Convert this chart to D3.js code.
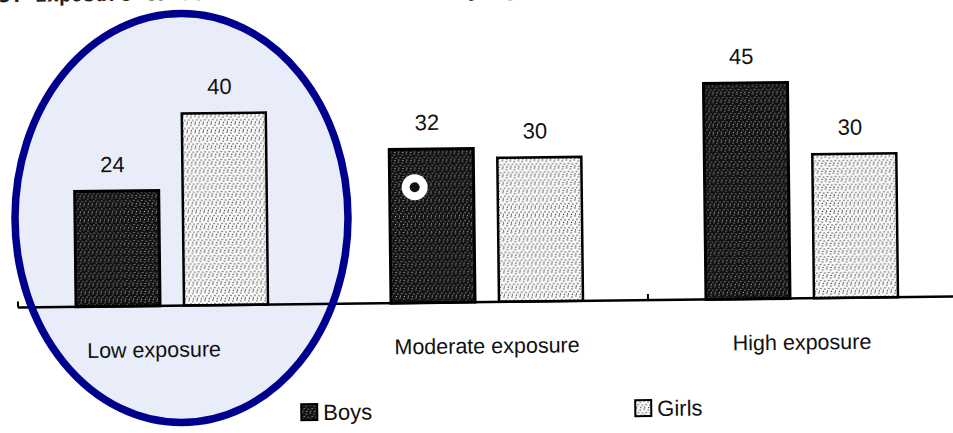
<!DOCTYPE html>
<html>
<head>
<meta charset="utf-8">
<script src="https://cdn.jsdelivr.net/npm/d3@7"></script>
<style>
    html, body { margin: 0; padding: 0; background: #fff; }
    #chart { width: 953px; height: 433px; overflow: hidden; }
</style>
</head>
<body>
<div id="chart"></div>
<script>
// data
const categories = ["Low exposure", "Moderate exposure", "High exposure"];
const seriesNames = ["Boys", "Girls"];
const boysValues = [24, 32, 45];
const girlsValues = [40, 30, 30];
const titleText = "Figure 15: Exposure to school violence and bullying, by sex (%)";

function createBarChart() {
    const width = 953;
    const height = 433;
    const baseY = 302;   // axis line in the un-tilted frame
    const tilt = -0.67;  // the scan is slightly rotated

    const svg = d3.select("#chart")
        .append("svg")
        .attr("width", width)
        .attr("height", height);

    // stipple patterns for the bars
    const defs = svg.append("defs");
    const dotSpots = [[1, 1], [5, 2], [3, 4.5], [7, 5], [1.5, 7], [5.5, 7.5]];

    const dark = defs.append("pattern")
        .attr("id", "dotsDark")
        .attr("patternUnits", "userSpaceOnUse")
        .attr("width", 8).attr("height", 8);
    dark.append("rect").attr("width", 8).attr("height", 8).attr("fill", "#121212");
    dark.selectAll("circle").data(dotSpots).join("circle")
        .attr("cx", d => d[0]).attr("cy", d => d[1]).attr("r", 0.6)
        .attr("fill", "#e8e8e8");

    const light = defs.append("pattern")
        .attr("id", "dotsLight")
        .attr("patternUnits", "userSpaceOnUse")
        .attr("width", 8).attr("height", 8);
    light.append("rect").attr("width", 8).attr("height", 8).attr("fill", "#fbfbfb");
    light.selectAll("circle").data(dotSpots).join("circle")
        .attr("cx", d => d[0]).attr("cy", d => d[1]).attr("r", 0.65)
        .attr("fill", "#222");

    const fills = { Boys: "url(#dotsDark)", Girls: "url(#dotsLight)" };

    // highlight ellipse, fill goes under everything
    const ell = { cx: 181.5, cy: 218, rx: 166.5, ry: 204.5 };
    svg.append("ellipse")
        .attr("cx", ell.cx).attr("cy", ell.cy)
        .attr("rx", ell.rx).attr("ry", ell.ry)
        .attr("fill", "#e9edf9");

    const g = svg.append("g")
        .attr("transform", `rotate(${tilt},486,${baseY})`);

    // title, mostly cut off by the top edge of the scan
    g.append("text")
        .attr("x", -94)
        .attr("y", -3.5)
        .style("font-family", "'DejaVu Sans Mono', monospace")
        .style("font-weight", "bold")
        .style("font-size", "20px")
        .style("fill", "#222")
        .text(titleText);

    const x0 = d3.scaleBand()
        .domain(categories)
        .range([18, 963]);

    const groupWidth = 192;
    const groupShift = (x0.bandwidth() - groupWidth) / 2 - 3.5;

    const x1 = d3.scaleBand()
        .domain(seriesNames)
        .range([0, groupWidth])
        .paddingInner(0.222);

    const y = d3.scaleLinear()
        .domain([0, 50])
        .range([baseY, baseY - 240]);

    const rows = categories.map((c, i) => ({
        category: c,
        values: [
            { key: "Boys", value: boysValues[i] },
            { key: "Girls", value: girlsValues[i] }
        ]
    }));

    // draw bars
    const groups = g.append("g")
        .selectAll("g")
        .data(rows)
        .join("g")
        .attr("transform", d => `translate(${x0(d.category) + groupShift},0)`);

    groups.selectAll("rect")
        .data(d => d.values)
        .join("rect")
        .attr("x", d => x1(d.key))
        .attr("y", d => y(d.value))
        .attr("width", x1.bandwidth())
        .attr("height", d => y(0) - y(d.value))
        .attr("fill", d => fills[d.key])
        .attr("stroke", "#000")
        .attr("stroke-width", d => d.key === "Boys" ? 3 : 2.5);

    // value labels
    groups.selectAll("text.val")
        .data(d => d.values)
        .join("text")
        .attr("class", "val")
        .attr("x", d => x1(d.key) + x1.bandwidth() / 2 - 4)
        .attr("y", d => y(d.value) - 19)
        .attr("text-anchor", "middle")
        .style("font-family", "'Liberation Sans', Arial, sans-serif")
        .style("font-size", "22px")
        .style("fill", "#111")
        .text(d => d.value);

    // punch-hole speck on the moderate boys bar
    const speck = groups.filter(d => d.category === "Moderate exposure")
        .append("g")
        .attr("transform", d => `translate(${x1("Boys") + 25},${y(d.values[0].value) + 38})`);
    speck.append("circle").attr("r", 13).attr("fill", "#fff");
    speck.append("circle").attr("r", 5).attr("fill", "#111");

    // axis
    const axis = g.append("g")
        .attr("transform", `translate(0,${baseY})`)
        .call(d3.axisBottom(x0).tickSize(0).tickPadding(36));
    axis.select(".domain")
        .attr("d", `M${x0.range()[0]},0H${width + 20}`)
        .attr("stroke", "#000")
        .attr("stroke-width", 2.5);
    // the printed labels sit a little left of the group centres
    axis.selectAll(".tick text")
        .attr("dx", (d, i) => i === 0 ? -22 : -4)
        .style("font-family", "'Liberation Sans', Arial, sans-serif")
        .style("font-size", "21.5px")
        .style("fill", "#111");

    // small ticks at the group edges
    g.append("g")
        .selectAll("line")
        .data([categories[0], categories[2]])
        .join("line")
        .attr("x1", d => x0(d)).attr("x2", d => x0(d))
        .attr("y1", baseY).attr("y2", baseY - 6)
        .attr("stroke", "#000")
        .attr("stroke-width", 2);

    // legend
    const legendX = { Boys: 300, Girls: 634 };
    const legend = g.append("g")
        .selectAll("g")
        .data(seriesNames)
        .join("g")
        .attr("transform", d => `translate(${legendX[d]},402)`);
    legend.append("rect")
        .attr("width", 16).attr("height", 16)
        .attr("fill", d => fills[d])
        .attr("stroke", "#000")
        .attr("stroke-width", 2);
    legend.append("text")
        .attr("x", 22)
        .attr("y", 16)
        .style("font-family", "'Liberation Sans', Arial, sans-serif")
        .style("font-size", "22px")
        .style("fill", "#111")
        .text(d => d);

    // ellipse outline on top
    svg.append("ellipse")
        .attr("cx", ell.cx).attr("cy", ell.cy)
        .attr("rx", ell.rx).attr("ry", ell.ry)
        .attr("fill", "none")
        .attr("stroke", "#00008f")
        .attr("stroke-width", 7.5);
}

createBarChart();
</script>
</body>
</html>
